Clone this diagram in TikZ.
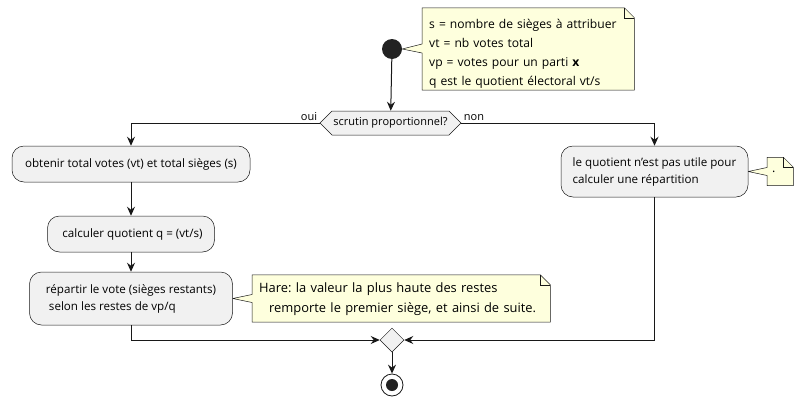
\documentclass[tikz,border=0pt]{standalone}
\usepackage{fontspec}
\setmainfont{Open Sans}
\frenchspacing
\usetikzlibrary{arrows.meta,shapes.symbols,shapes.geometric,calc,backgrounds}
\definecolor{boxfill}{HTML}{F1F1F1}
\definecolor{edge}{HTML}{181818}
\definecolor{notefill}{HTML}{FEFFDD}
\definecolor{dot}{HTML}{222222}

\begin{document}
\begin{tikzpicture}[x=1pt,y=-1pt,
    action/.style={draw=edge, line width=0.5pt, fill=boxfill, rounded corners=12pt,
      align=left, inner sep=0pt, font=\fontsize{11.6}{17}\selectfont},
    choice/.style={draw=edge, line width=0.5pt, fill=boxfill, shape=signal,
      signal to=west and east, signal pointer angle=90, inner sep=0pt,
      font=\fontsize{11}{12}\selectfont},
    merger/.style={draw=edge, line width=0.5pt, fill=boxfill, shape=diamond,
      minimum width=24pt, minimum height=24pt, inner sep=0pt},
    note/.style={align=left, inner xsep=7pt, inner ysep=0pt, anchor=west,
      font=\fontsize{12.5}{19}\selectfont},
    notebox/.style={draw=edge, line width=0.5pt, fill=notefill},
    flow/.style={draw=edge, line width=1pt, -{Stealth[length=9pt,width=8pt,inset=3pt]}},
    branch/.style={font=\fontsize{11}{12}\selectfont, inner sep=2pt}
  ]
  \useasboundingbox (0,0) rectangle (803,407);

  % debut et fin
  \node[circle, fill=dot, minimum size=20pt, inner sep=0pt] (start) at (392,49) {};
  \node[circle, draw=edge, line width=0.8pt, fill=white, minimum size=22pt, inner sep=0pt] (stop) at (392,385) {};
  \node[circle, fill=dot, minimum size=12pt, inner sep=0pt] (stopin) at (stop.center) {};

  % choix
  \node[choice, minimum width=141pt, minimum height=24pt] (dec) at (390.5,123) {scrutin proportionnel?};
  \node[merger] (merge) at (392,340) {};

  % branche oui
  \node[action, minimum width=238pt, minimum height=36pt] (total) at (131,164)
    {obtenir total votes (vt) et total sièges (s)};
  \node[action, minimum width=167pt, minimum height=36pt] (quot) at (131,234)
    {\hspace*{3pt}calculer quotient q = (vt/s)};
  \node[action, minimum width=203pt, minimum height=53pt] (repart) at (131,298.5)
    {répartir le vote (sièges restants)\\\hspace*{3pt}selon les restes de vp/q};

  % branche non
  \node[action, minimum width=187pt, minimum height=51pt] (inutile) at (654.5,171.5)
    {le quotient n'est pas utile pour\\calculer une répartition};

  % notes
  \node[note, font=\fontsize{12.1}{19}\selectfont, text width=198pt, minimum height=82pt] (n1) at (422,49)
    {\rule{0pt}{19pt}\mbox{s = nombre de sièges à attribuer}\\vt = nb votes total\\vp = votes pour un parti \textbf{x}\\q est le quotient électoral vt/s};
  \node[note, font=\fontsize{12.9}{20}\selectfont, text width=284pt, minimum height=47pt] (n2) at (252,298.5)
    {\rule{0pt}{12pt}Hare: la valeur la plus haute des restes\\\hspace*{10pt}\mbox{remporte le premier siège, et ainsi de suite.}};
  \node[note, inner xsep=5pt, text width=16pt, minimum height=28pt] (n3) at (767,171.5) {.};

  \begin{scope}[on background layer]
    \path[notebox] (n1.north west) -- ($(n1.north east)+(-10,0)$) -- ($(n1.north east)+(0,10)$)
      -- (n1.south east) -- (n1.south west) -- ($(n1.west)+(0,4)$) -- (start.east)
      -- ($(n1.west)+(0,-5)$) -- cycle;
    \draw[notebox, fill=none] ($(n1.north east)+(-10,0)$) -- ++(0,10) -- ++(10,0);
    \path[notebox] (n2.north west) -- ($(n2.north east)+(-10,0)$) -- ($(n2.north east)+(0,10)$)
      -- (n2.south east) -- (n2.south west) -- ($(n2.west)+(0,4)$) -- (repart.east)
      -- ($(n2.west)+(0,-4)$) -- cycle;
    \draw[notebox, fill=none] ($(n2.north east)+(-10,0)$) -- ++(0,10) -- ++(10,0);
    \path[notebox] (n3.north west) -- ($(n3.north east)+(-10,0)$) -- ($(n3.north east)+(0,10)$)
      -- (n3.south east) -- (n3.south west) -- ($(n3.west)+(0,4)$) -- (inutile.east)
      -- ($(n3.west)+(0,-4)$) -- cycle;
    \draw[notebox, fill=none] ($(n3.north east)+(-10,0)$) -- ++(0,10) -- ++(10,0);
  \end{scope}

  % liens
  \draw[flow] (start) -- (dec);
  \draw[flow] (dec.west) -| (total.north) node[branch, pos=0, above left] {oui};
  \draw[flow] (dec.east) -| (inutile.north) node[branch, pos=0, above right] {non};
  \draw[flow] (total) -- (quot);
  \draw[flow] (quot) -- (repart);
  \draw[flow] (repart.south) |- (merge.west);
  \draw[flow] (inutile.south) |- (merge.east);
  \draw[flow] (merge) -- (stop);
\end{tikzpicture}
\end{document}
